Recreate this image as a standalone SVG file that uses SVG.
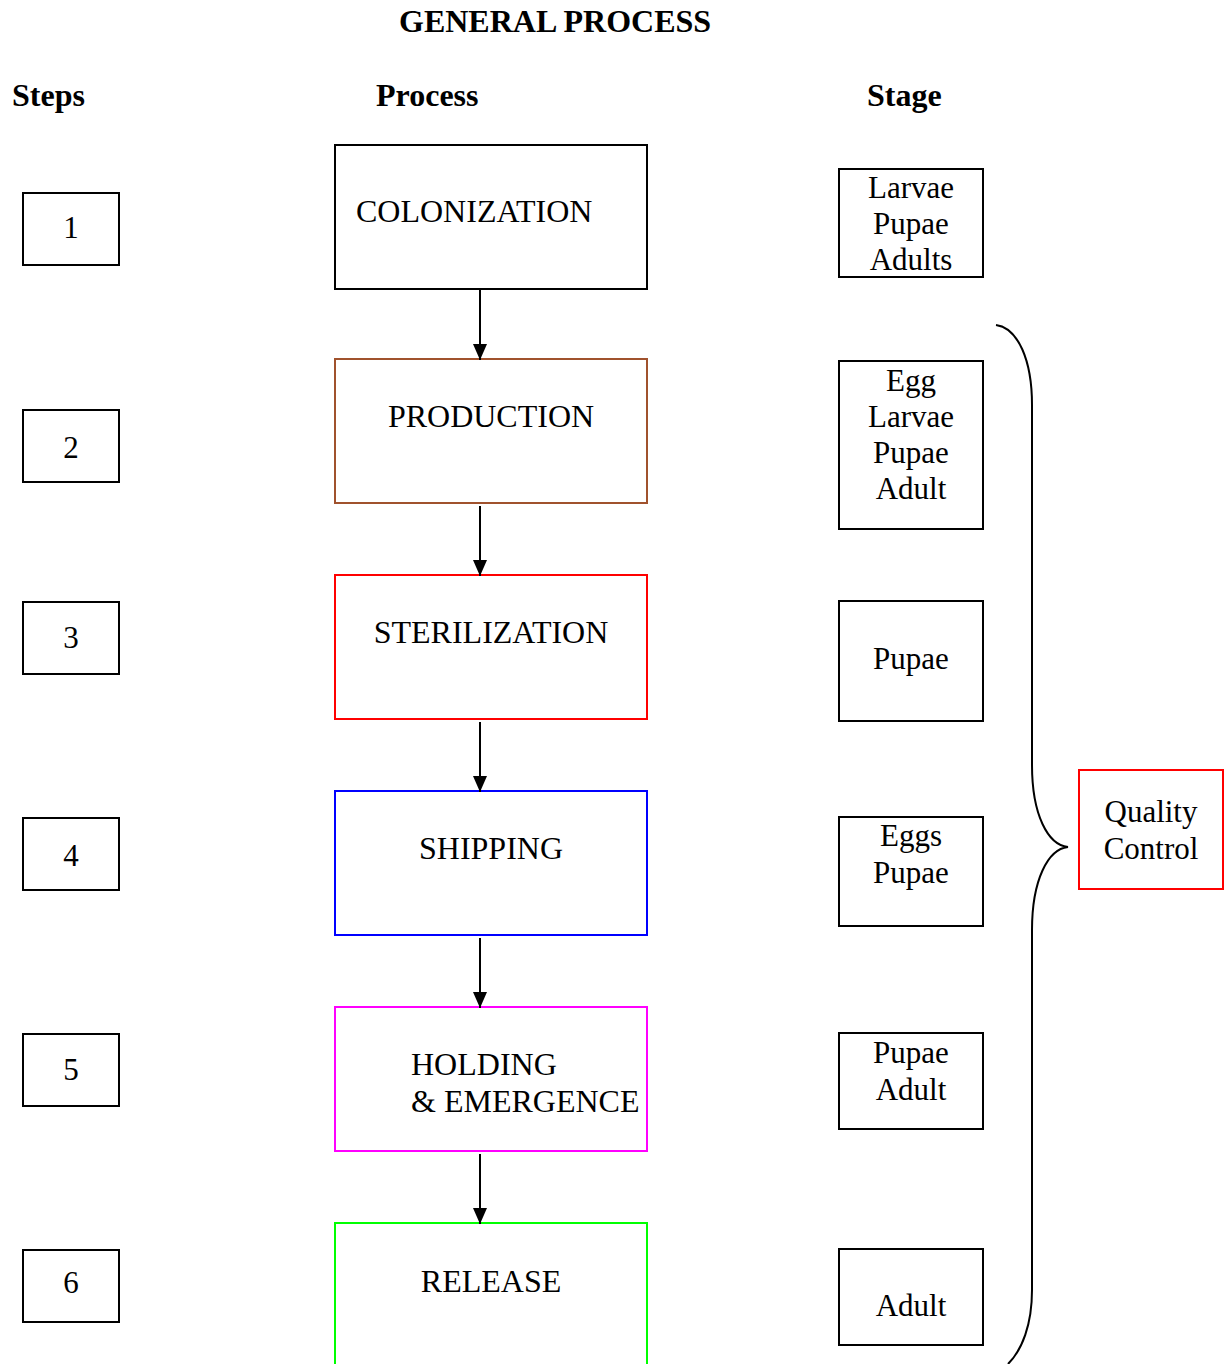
<svg xmlns="http://www.w3.org/2000/svg" width="1228" height="1364" viewBox="0 0 1228 1364">
  <style>
    text { font-family: "Liberation Serif", "Times New Roman", serif; fill: #000; }
    .hd { font-size: 32px; font-weight: bold; }
    .lbl { font-size: 31px; }
    .proc { font-size: 32px; }
    .mid { text-anchor: middle; }
    .box { fill: #fff; stroke: #000; stroke-width: 2; }
    .conn { stroke: #000; stroke-width: 2; fill: none; }
  </style>
  <defs>
    <marker id="arrow" viewBox="0 0 16 14" refX="16" refY="7" markerWidth="16" markerHeight="14" markerUnits="userSpaceOnUse" orient="auto">
      <path d="M0 0 L16 7 L0 14 Z" fill="#000"/>
    </marker>
  </defs>

  <!-- headings -->
  <text class="hd" x="399" y="32">GENERAL PROCESS</text>
  <text class="hd" x="12" y="106">Steps</text>
  <text class="hd" x="376" y="106">Process</text>
  <text class="hd" x="867" y="106">Stage</text>

  <!-- step numbers -->
  <g id="step1"><rect class="box" x="23" y="193" width="96" height="72"/><text class="lbl mid" x="71" y="238">1</text></g>
  <g id="step2"><rect class="box" x="23" y="410" width="96" height="72"/><text class="lbl mid" x="71" y="458">2</text></g>
  <g id="step3"><rect class="box" x="23" y="602" width="96" height="72"/><text class="lbl mid" x="71" y="648">3</text></g>
  <g id="step4"><rect class="box" x="23" y="818" width="96" height="72"/><text class="lbl mid" x="71" y="866">4</text></g>
  <g id="step5"><rect class="box" x="23" y="1034" width="96" height="72"/><text class="lbl mid" x="71" y="1080">5</text></g>
  <g id="step6"><rect class="box" x="23" y="1250" width="96" height="72"/><text class="lbl mid" x="71" y="1293">6</text></g>

  <!-- process boxes -->
  <g id="colonization"><rect class="box" x="335" y="145" width="312" height="144"/><text class="proc" x="356" y="222">COLONIZATION</text></g>
  <g id="production"><rect class="box" x="335" y="359" width="312" height="144" style="stroke:#a0522d"/><text class="proc mid" x="491" y="427">PRODUCTION</text></g>
  <g id="sterilization"><rect class="box" x="335" y="575" width="312" height="144" style="stroke:#ff0000"/><text class="proc mid" x="491" y="643">STERILIZATION</text></g>
  <g id="shipping"><rect class="box" x="335" y="791" width="312" height="144" style="stroke:#0000ff"/><text class="proc mid" x="491" y="859">SHIPPING</text></g>
  <g id="holding"><rect class="box" x="335" y="1007" width="312" height="144" style="stroke:#ff00ff"/><text class="proc" x="411" y="1075">HOLDING</text><text class="proc" x="411" y="1112">&amp; EMERGENCE</text></g>
  <g id="release"><path d="M335 1366 L335 1223 L647 1223 L647 1366" fill="#fff" stroke="#00ff00" stroke-width="2"/><text class="proc mid" x="491" y="1292">RELEASE</text></g>

  <!-- stage boxes -->
  <g id="stage1"><rect class="box" x="839" y="169" width="144" height="108"/><text class="lbl mid" x="911" y="198">Larvae</text><text class="lbl mid" x="911" y="234">Pupae</text><text class="lbl mid" x="911" y="270">Adults</text></g>
  <g id="stage2"><rect class="box" x="839" y="361" width="144" height="168"/><text class="lbl mid" x="911" y="391">Egg</text><text class="lbl mid" x="911" y="427">Larvae</text><text class="lbl mid" x="911" y="463">Pupae</text><text class="lbl mid" x="911" y="499">Adult</text></g>
  <g id="stage3"><rect class="box" x="839" y="601" width="144" height="120"/><text class="lbl mid" x="911" y="669">Pupae</text></g>
  <g id="stage4"><rect class="box" x="839" y="817" width="144" height="109"/><text class="lbl mid" x="911" y="846">Eggs</text><text class="lbl mid" x="911" y="883">Pupae</text></g>
  <g id="stage5"><rect class="box" x="839" y="1033" width="144" height="96"/><text class="lbl mid" x="911" y="1063">Pupae</text><text class="lbl mid" x="911" y="1100">Adult</text></g>
  <g id="stage6"><rect class="box" x="839" y="1249" width="144" height="96"/><text class="lbl mid" x="911" y="1316">Adult</text></g>

  <!-- quality control -->
  <g id="quality-control"><rect class="box" x="1079" y="770" width="144" height="119" style="stroke:#ff0000"/><text class="lbl mid" x="1151" y="822">Quality</text><text class="lbl mid" x="1151" y="859">Control</text></g>

  <!-- connectors -->
  <g id="connectors">
    <line class="conn" x1="480" y1="290" x2="480" y2="360" marker-end="url(#arrow)"/>
    <line class="conn" x1="480" y1="506" x2="480" y2="576" marker-end="url(#arrow)"/>
    <line class="conn" x1="480" y1="722" x2="480" y2="792" marker-end="url(#arrow)"/>
    <line class="conn" x1="480" y1="938" x2="480" y2="1008" marker-end="url(#arrow)"/>
    <line class="conn" x1="480" y1="1154" x2="480" y2="1224" marker-end="url(#arrow)"/>
    <path class="conn" d="M996 325 C1018 328 1032 360 1032 405 L1032 765 C1032 815 1048 845 1068 847 C1048 849 1032 880 1032 930 L1032 1290 C1032 1325 1022 1350 1008 1364"/>
  </g>
</svg>
